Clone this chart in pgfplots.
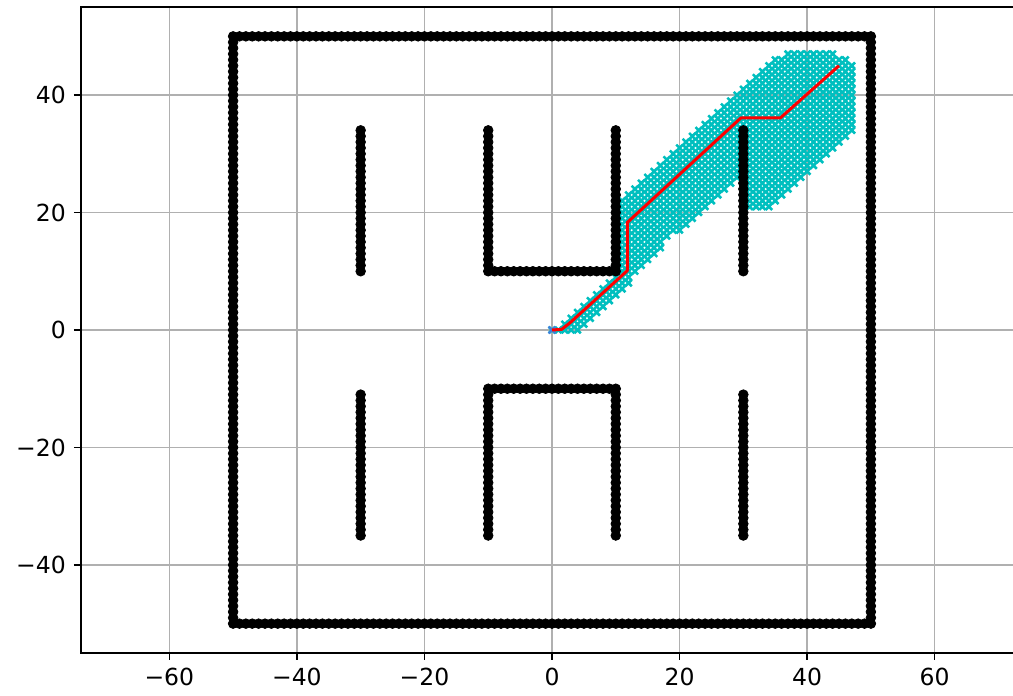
\documentclass[border=0pt]{standalone}
\usepackage{fontspec}
\setmainfont{DejaVu Sans}
\usepackage{pgfplots}
\pgfplotsset{compat=1.18}
\definecolor{mplcyan}{RGB}{0,191,191}
\definecolor{mplgrid}{RGB}{176,176,176}
\definecolor{startblue}{RGB}{60,130,220}

\begin{document}
\fontsize{11.75}{14}\selectfont
\begin{tikzpicture}
\begin{axis}[
  scale only axis, width=471pt, height=323pt,
  xmin=-73.85, xmax=73.85, ymin=-55, ymax=55,
  xtick={-60,-40,-20,0,20,40,60},
  xticklabels={−60,−40,−20,0,20,40,60},
  ytick={-40,-20,0,20,40},
  yticklabels={−40,−20,0,20,40},
  tick pos=left, tick align=outside, major tick length=3.5pt,
  tick style={black, line width=0.8pt},
  axis line style={line width=0.8pt},
  grid=major, grid style={mplgrid, line width=0.8pt},
  tick label style={font=\fontsize{11.75}{14}\selectfont},
  clip marker paths=true,
]
% explored nodes of the search
\addplot[only marks, mark=x, mark size=2.3pt, mplcyan, mark options={line width=1.3pt}] coordinates {
(0,0)(1,0)(2,0)(3,0)(4,0)
(2,1)(3,1)(4,1)(5,1)
(3,2)(4,2)(5,2)(6,2)
(4,3)(5,3)(6,3)(7,3)
(5,4)(6,4)(7,4)(8,4)
(6,5)(7,5)(8,5)(9,5)
(7,6)(8,6)(9,6)(10,6)
(8,7)(9,7)(10,7)(11,7)
(9,8)(10,8)(11,8)(12,8)
(10,9)(11,9)(12,9)
(11,10)(12,10)(13,10)
(11,11)(12,11)(13,11)(14,11)
(11,12)(12,12)(13,12)(14,12)(15,12)
(11,13)(12,13)(13,13)(14,13)(15,13)(16,13)
(11,14)(12,14)(13,14)(14,14)(15,14)(16,14)(17,14)
(11,15)(12,15)(13,15)(14,15)(15,15)(16,15)(17,15)
(11,16)(12,16)(13,16)(14,16)(15,16)(16,16)(17,16)(18,16)
(11,17)(12,17)(13,17)(14,17)(15,17)(16,17)(17,17)(18,17)(19,17)(20,17)
(11,18)(12,18)(13,18)(14,18)(15,18)(16,18)(17,18)(18,18)(19,18)(20,18)(21,18)
(11,19)(12,19)(13,19)(14,19)(15,19)(16,19)(17,19)(18,19)(19,19)(20,19)(21,19)(22,19)
(11,20)(12,20)(13,20)(14,20)(15,20)(16,20)(17,20)(18,20)(19,20)(20,20)(21,20)(22,20)(23,20)
(11,21)(12,21)(13,21)(14,21)(15,21)(16,21)(17,21)(18,21)(19,21)(20,21)(21,21)(22,21)(23,21)(24,21)
(31,21)(32,21)(33,21)(34,21)
(11,22)(12,22)(13,22)(14,22)(15,22)(16,22)(17,22)(18,22)(19,22)(20,22)(21,22)(22,22)(23,22)(24,22)(25,22)
(31,22)(32,22)(33,22)(34,22)(35,22)
(12,23)(13,23)(14,23)(15,23)(16,23)(17,23)(18,23)(19,23)(20,23)(21,23)(22,23)(23,23)(24,23)(25,23)(26,23)
(31,23)(32,23)(33,23)(34,23)(35,23)(36,23)
(13,24)(14,24)(15,24)(16,24)(17,24)(18,24)(19,24)(20,24)(21,24)(22,24)(23,24)(24,24)(25,24)(26,24)(27,24)
(31,24)(32,24)(33,24)(34,24)(35,24)(36,24)(37,24)
(14,25)(15,25)(16,25)(17,25)(18,25)(19,25)(20,25)(21,25)(22,25)(23,25)(24,25)(25,25)(26,25)(27,25)(28,25)
(31,25)(32,25)(33,25)(34,25)(35,25)(36,25)(37,25)(38,25)
(15,26)(16,26)(17,26)(18,26)(19,26)(20,26)(21,26)(22,26)(23,26)(24,26)(25,26)(26,26)(27,26)(28,26)(29,26)
(31,26)(32,26)(33,26)(34,26)(35,26)(36,26)(37,26)(38,26)(39,26)
(16,27)(17,27)(18,27)(19,27)(20,27)(21,27)(22,27)(23,27)(24,27)(25,27)(26,27)(27,27)(28,27)(29,27)
(31,27)(32,27)(33,27)(34,27)(35,27)(36,27)(37,27)(38,27)(39,27)(40,27)
(17,28)(18,28)(19,28)(20,28)(21,28)(22,28)(23,28)(24,28)(25,28)(26,28)(27,28)(28,28)(29,28)
(31,28)(32,28)(33,28)(34,28)(35,28)(36,28)(37,28)(38,28)(39,28)(40,28)(41,28)
(18,29)(19,29)(20,29)(21,29)(22,29)(23,29)(24,29)(25,29)(26,29)(27,29)(28,29)(29,29)
(31,29)(32,29)(33,29)(34,29)(35,29)(36,29)(37,29)(38,29)(39,29)(40,29)(41,29)(42,29)
(19,30)(20,30)(21,30)(22,30)(23,30)(24,30)(25,30)(26,30)(27,30)(28,30)(29,30)
(31,30)(32,30)(33,30)(34,30)(35,30)(36,30)(37,30)(38,30)(39,30)(40,30)(41,30)(42,30)(43,30)
(20,31)(21,31)(22,31)(23,31)(24,31)(25,31)(26,31)(27,31)(28,31)(29,31)
(31,31)(32,31)(33,31)(34,31)(35,31)(36,31)(37,31)(38,31)(39,31)(40,31)(41,31)(42,31)(43,31)(44,31)
(21,32)(22,32)(23,32)(24,32)(25,32)(26,32)(27,32)(28,32)(29,32)
(31,32)(32,32)(33,32)(34,32)(35,32)(36,32)(37,32)(38,32)(39,32)(40,32)(41,32)(42,32)(43,32)(44,32)(45,32)
(22,33)(23,33)(24,33)(25,33)(26,33)(27,33)(28,33)(29,33)
(31,33)(32,33)(33,33)(34,33)(35,33)(36,33)(37,33)(38,33)(39,33)(40,33)(41,33)(42,33)(43,33)(44,33)(45,33)(46,33)
(23,34)(24,34)(25,34)(26,34)(27,34)(28,34)(29,34)
(31,34)(32,34)(33,34)(34,34)(35,34)(36,34)(37,34)(38,34)(39,34)(40,34)(41,34)(42,34)(43,34)(44,34)(45,34)(46,34)(47,34)
(24,35)(25,35)(26,35)(27,35)(28,35)(29,35)(30,35)(31,35)(32,35)(33,35)(34,35)(35,35)(36,35)(37,35)(38,35)(39,35)(40,35)(41,35)(42,35)(43,35)(44,35)(45,35)(46,35)(47,35)
(25,36)(26,36)(27,36)(28,36)(29,36)(30,36)(31,36)(32,36)(33,36)(34,36)(35,36)(36,36)(37,36)(38,36)(39,36)(40,36)(41,36)(42,36)(43,36)(44,36)(45,36)(46,36)(47,36)
(26,37)(27,37)(28,37)(29,37)(30,37)(31,37)(32,37)(33,37)(34,37)(35,37)(36,37)(37,37)(38,37)(39,37)(40,37)(41,37)(42,37)(43,37)(44,37)(45,37)(46,37)(47,37)
(27,38)(28,38)(29,38)(30,38)(31,38)(32,38)(33,38)(34,38)(35,38)(36,38)(37,38)(38,38)(39,38)(40,38)(41,38)(42,38)(43,38)(44,38)(45,38)(46,38)(47,38)
(28,39)(29,39)(30,39)(31,39)(32,39)(33,39)(34,39)(35,39)(36,39)(37,39)(38,39)(39,39)(40,39)(41,39)(42,39)(43,39)(44,39)(45,39)(46,39)(47,39)
(29,40)(30,40)(31,40)(32,40)(33,40)(34,40)(35,40)(36,40)(37,40)(38,40)(39,40)(40,40)(41,40)(42,40)(43,40)(44,40)(45,40)(46,40)(47,40)
(30,41)(31,41)(32,41)(33,41)(34,41)(35,41)(36,41)(37,41)(38,41)(39,41)(40,41)(41,41)(42,41)(43,41)(44,41)(45,41)(46,41)(47,41)
(31,42)(32,42)(33,42)(34,42)(35,42)(36,42)(37,42)(38,42)(39,42)(40,42)(41,42)(42,42)(43,42)(44,42)(45,42)(46,42)(47,42)
(32,43)(33,43)(34,43)(35,43)(36,43)(37,43)(38,43)(39,43)(40,43)(41,43)(42,43)(43,43)(44,43)(45,43)(46,43)(47,43)
(33,44)(34,44)(35,44)(36,44)(37,44)(38,44)(39,44)(40,44)(41,44)(42,44)(43,44)(44,44)(45,44)(46,44)(47,44)
(34,45)(35,45)(36,45)(37,45)(38,45)(39,45)(40,45)(41,45)(42,45)(43,45)(44,45)(45,45)(46,45)(47,45)
(35,46)(36,46)(37,46)(38,46)(39,46)(40,46)(41,46)(42,46)(43,46)(44,46)(45,46)(46,46)
(37,47)(38,47)(39,47)(40,47)(41,47)(42,47)(43,47)(44,47)
};
% obstacles: outer boundary
\addplot[only marks, mark=*, mark size=2.4pt, black] coordinates {
(-50,-50)(-49,-50)(-48,-50)(-47,-50)(-46,-50)(-45,-50)(-44,-50)(-43,-50)(-42,-50)(-41,-50)
(-40,-50)(-39,-50)(-38,-50)(-37,-50)(-36,-50)(-35,-50)(-34,-50)(-33,-50)(-32,-50)(-31,-50)
(-30,-50)(-29,-50)(-28,-50)(-27,-50)(-26,-50)(-25,-50)(-24,-50)(-23,-50)(-22,-50)(-21,-50)
(-20,-50)(-19,-50)(-18,-50)(-17,-50)(-16,-50)(-15,-50)(-14,-50)(-13,-50)(-12,-50)(-11,-50)
(-10,-50)(-9,-50)(-8,-50)(-7,-50)(-6,-50)(-5,-50)(-4,-50)(-3,-50)(-2,-50)(-1,-50)
(0,-50)(1,-50)(2,-50)(3,-50)(4,-50)(5,-50)(6,-50)(7,-50)(8,-50)(9,-50)
(10,-50)(11,-50)(12,-50)(13,-50)(14,-50)(15,-50)(16,-50)(17,-50)(18,-50)(19,-50)
(20,-50)(21,-50)(22,-50)(23,-50)(24,-50)(25,-50)(26,-50)(27,-50)(28,-50)(29,-50)
(30,-50)(31,-50)(32,-50)(33,-50)(34,-50)(35,-50)(36,-50)(37,-50)(38,-50)(39,-50)
(40,-50)(41,-50)(42,-50)(43,-50)(44,-50)(45,-50)(46,-50)(47,-50)(48,-50)(49,-50)(50,-50)
(-50,50)(-49,50)(-48,50)(-47,50)(-46,50)(-45,50)(-44,50)(-43,50)(-42,50)(-41,50)
(-40,50)(-39,50)(-38,50)(-37,50)(-36,50)(-35,50)(-34,50)(-33,50)(-32,50)(-31,50)
(-30,50)(-29,50)(-28,50)(-27,50)(-26,50)(-25,50)(-24,50)(-23,50)(-22,50)(-21,50)
(-20,50)(-19,50)(-18,50)(-17,50)(-16,50)(-15,50)(-14,50)(-13,50)(-12,50)(-11,50)
(-10,50)(-9,50)(-8,50)(-7,50)(-6,50)(-5,50)(-4,50)(-3,50)(-2,50)(-1,50)
(0,50)(1,50)(2,50)(3,50)(4,50)(5,50)(6,50)(7,50)(8,50)(9,50)
(10,50)(11,50)(12,50)(13,50)(14,50)(15,50)(16,50)(17,50)(18,50)(19,50)
(20,50)(21,50)(22,50)(23,50)(24,50)(25,50)(26,50)(27,50)(28,50)(29,50)
(30,50)(31,50)(32,50)(33,50)(34,50)(35,50)(36,50)(37,50)(38,50)(39,50)
(40,50)(41,50)(42,50)(43,50)(44,50)(45,50)(46,50)(47,50)(48,50)(49,50)(50,50)
(-50,-49)(-50,-48)(-50,-47)(-50,-46)(-50,-45)(-50,-44)(-50,-43)(-50,-42)(-50,-41)(-50,-40)
(-50,-39)(-50,-38)(-50,-37)(-50,-36)(-50,-35)(-50,-34)(-50,-33)(-50,-32)(-50,-31)(-50,-30)
(-50,-29)(-50,-28)(-50,-27)(-50,-26)(-50,-25)(-50,-24)(-50,-23)(-50,-22)(-50,-21)(-50,-20)
(-50,-19)(-50,-18)(-50,-17)(-50,-16)(-50,-15)(-50,-14)(-50,-13)(-50,-12)(-50,-11)(-50,-10)
(-50,-9)(-50,-8)(-50,-7)(-50,-6)(-50,-5)(-50,-4)(-50,-3)(-50,-2)(-50,-1)(-50,0)
(-50,1)(-50,2)(-50,3)(-50,4)(-50,5)(-50,6)(-50,7)(-50,8)(-50,9)(-50,10)
(-50,11)(-50,12)(-50,13)(-50,14)(-50,15)(-50,16)(-50,17)(-50,18)(-50,19)(-50,20)
(-50,21)(-50,22)(-50,23)(-50,24)(-50,25)(-50,26)(-50,27)(-50,28)(-50,29)(-50,30)
(-50,31)(-50,32)(-50,33)(-50,34)(-50,35)(-50,36)(-50,37)(-50,38)(-50,39)(-50,40)
(-50,41)(-50,42)(-50,43)(-50,44)(-50,45)(-50,46)(-50,47)(-50,48)(-50,49)
(50,-49)(50,-48)(50,-47)(50,-46)(50,-45)(50,-44)(50,-43)(50,-42)(50,-41)(50,-40)
(50,-39)(50,-38)(50,-37)(50,-36)(50,-35)(50,-34)(50,-33)(50,-32)(50,-31)(50,-30)
(50,-29)(50,-28)(50,-27)(50,-26)(50,-25)(50,-24)(50,-23)(50,-22)(50,-21)(50,-20)
(50,-19)(50,-18)(50,-17)(50,-16)(50,-15)(50,-14)(50,-13)(50,-12)(50,-11)(50,-10)
(50,-9)(50,-8)(50,-7)(50,-6)(50,-5)(50,-4)(50,-3)(50,-2)(50,-1)(50,0)
(50,1)(50,2)(50,3)(50,4)(50,5)(50,6)(50,7)(50,8)(50,9)(50,10)
(50,11)(50,12)(50,13)(50,14)(50,15)(50,16)(50,17)(50,18)(50,19)(50,20)
(50,21)(50,22)(50,23)(50,24)(50,25)(50,26)(50,27)(50,28)(50,29)(50,30)
(50,31)(50,32)(50,33)(50,34)(50,35)(50,36)(50,37)(50,38)(50,39)(50,40)
(50,41)(50,42)(50,43)(50,44)(50,45)(50,46)(50,47)(50,48)(50,49)
};
% obstacles: inner walls
\addplot[only marks, mark=*, mark size=2.4pt, black] coordinates {
(-30,10)(-30,11)(-30,12)(-30,13)(-30,14)(-30,15)(-30,16)(-30,17)(-30,18)(-30,19)(-30,20)(-30,21)(-30,22)
(-30,23)(-30,24)(-30,25)(-30,26)(-30,27)(-30,28)(-30,29)(-30,30)(-30,31)(-30,32)(-30,33)(-30,34)
(-30,-35)(-30,-34)(-30,-33)(-30,-32)(-30,-31)(-30,-30)(-30,-29)(-30,-28)(-30,-27)(-30,-26)(-30,-25)(-30,-24)(-30,-23)
(-30,-22)(-30,-21)(-30,-20)(-30,-19)(-30,-18)(-30,-17)(-30,-16)(-30,-15)(-30,-14)(-30,-13)(-30,-12)(-30,-11)
(-10,10)(-10,11)(-10,12)(-10,13)(-10,14)(-10,15)(-10,16)(-10,17)(-10,18)(-10,19)(-10,20)(-10,21)(-10,22)
(-10,23)(-10,24)(-10,25)(-10,26)(-10,27)(-10,28)(-10,29)(-10,30)(-10,31)(-10,32)(-10,33)(-10,34)
(-10,-35)(-10,-34)(-10,-33)(-10,-32)(-10,-31)(-10,-30)(-10,-29)(-10,-28)(-10,-27)(-10,-26)(-10,-25)(-10,-24)(-10,-23)
(-10,-22)(-10,-21)(-10,-20)(-10,-19)(-10,-18)(-10,-17)(-10,-16)(-10,-15)(-10,-14)(-10,-13)(-10,-12)(-10,-11)(-10,-10)
(-9,10)(-8,10)(-7,10)(-6,10)(-5,10)(-4,10)(-3,10)(-2,10)(-1,10)(0,10)(1,10)(2,10)(3,10)(4,10)(5,10)(6,10)(7,10)(8,10)(9,10)
(-9,-10)(-8,-10)(-7,-10)(-6,-10)(-5,-10)(-4,-10)(-3,-10)(-2,-10)(-1,-10)(0,-10)(1,-10)(2,-10)(3,-10)(4,-10)(5,-10)(6,-10)(7,-10)(8,-10)(9,-10)
(10,10)(10,11)(10,12)(10,13)(10,14)(10,15)(10,16)(10,17)(10,18)(10,19)(10,20)(10,21)(10,22)
(10,23)(10,24)(10,25)(10,26)(10,27)(10,28)(10,29)(10,30)(10,31)(10,32)(10,33)(10,34)
(10,-35)(10,-34)(10,-33)(10,-32)(10,-31)(10,-30)(10,-29)(10,-28)(10,-27)(10,-26)(10,-25)(10,-24)(10,-23)
(10,-22)(10,-21)(10,-20)(10,-19)(10,-18)(10,-17)(10,-16)(10,-15)(10,-14)(10,-13)(10,-12)(10,-11)(10,-10)
(30,10)(30,11)(30,12)(30,13)(30,14)(30,15)(30,16)(30,17)(30,18)(30,19)(30,20)(30,21)(30,22)
(30,23)(30,24)(30,25)(30,26)(30,27)(30,28)(30,29)(30,30)(30,31)(30,32)(30,33)(30,34)
(30,-35)(30,-34)(30,-33)(30,-32)(30,-31)(30,-30)(30,-29)(30,-28)(30,-27)(30,-26)(30,-25)(30,-24)(30,-23)
(30,-22)(30,-21)(30,-20)(30,-19)(30,-18)(30,-17)(30,-16)(30,-15)(30,-14)(30,-13)(30,-12)(30,-11)
};
% start position
\addplot[only marks, mark=x, mark size=2.4pt, startblue, mark options={line width=1.1pt}] coordinates {(0,0)};
% final path
\addplot[color=red, line width=1.5pt, line join=round, mark=none] coordinates {
(0,0)(1.5,0.1)(2.8,1.2)(11.8,10.1)(11.8,18.3)(29.6,36.1)(35.8,36.1)(45,45)
};
\end{axis}
\pgfresetboundingbox
\path[use as bounding box] ([xshift=-40.5pt,yshift=-21.5pt]current axis.south west) rectangle ([xshift=466pt,yshift=326.5pt]current axis.south west);
\end{tikzpicture}
\end{document}
